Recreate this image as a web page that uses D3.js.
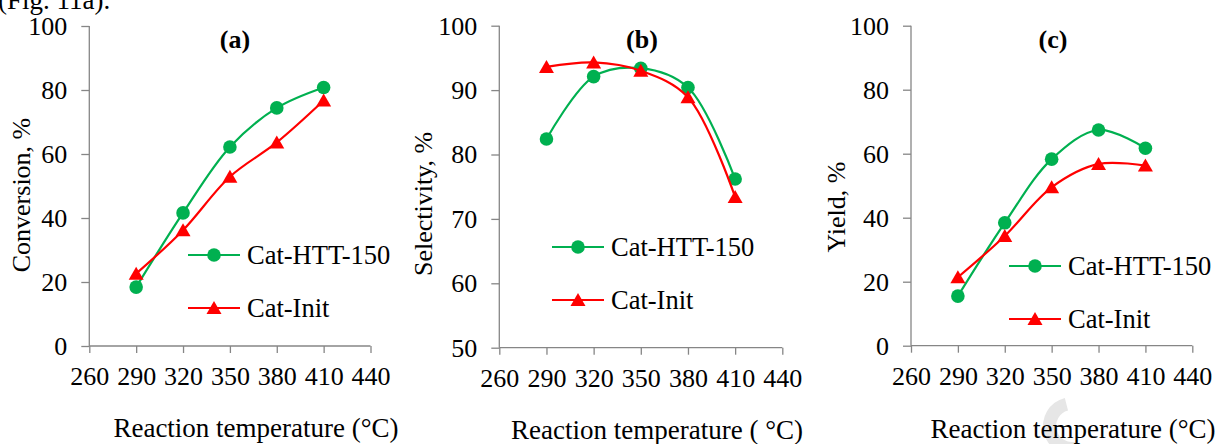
<!DOCTYPE html>
<html>
<head>
<meta charset="utf-8">
<script src="https://cdn.jsdelivr.net/npm/d3@7"></script>
<style>
  body { margin: 0; background: #fff; }
  svg { display: block; }
</style>
</head>
<body>
<svg width="1219" height="444"></svg>
<script>
// data
var temps = [290, 320, 350, 380, 410];
var xTicks = [260, 290, 320, 350, 380, 410, 440];
var convHTT = [18.4, 41.6, 62.2, 74.4, 80.8];
var convInit = [22.6, 36.2, 52.9, 63.6, 76.7];
var selHTT = [82.4, 92.1, 93.4, 90.4, 76.2];
var selInit = [93.6, 94.3, 93.0, 88.9, 73.4];
var yieldHTT = [15.5, 38.4, 58.3, 67.4, 61.7];
var yieldInit = [21.4, 34.3, 49.5, 56.8, 56.3];
var seriesNames = ["Cat-HTT-150", "Cat-Init"];
var convTicks = [0, 20, 40, 60, 80, 100];
var selTicks = [50, 60, 70, 80, 90, 100];
var yieldTicks = [0, 20, 40, 60, 80, 100];

var serif = "'Liberation Serif', 'Times New Roman', serif";
var green = "#00b050", red = "#ff0000", axisColor = "#868686";
var svg = d3.select("svg");

svg.append("rect").attr("width", 1219).attr("height", 444).attr("fill", "#fff");

// faint watermark arc in the lower right
svg.append("path")
  .attr("d", d3.arc().innerRadius(16).outerRadius(29).startAngle(-3.4).endAngle(-0.25)())
  .attr("transform", "translate(1072,426)")
  .attr("fill", "#e6e6e6");

// cut-off line of body text above the figure
svg.append("text")
  .text("(Fig. 11a).")
  .attr("x", -2).attr("y", 9)
  .attr("font-size", 27)
  .style("font-family", serif)
  .attr("fill", "#000");

var panels = [
  { x0: 89.3, x1: 370.5, yTop: 26, yBot: 346, dom: [0, 100], ticks: convTicks,
    a: convHTT, b: convInit, title: "(a)", tx: 235, ylab: "Conversion, %", ylx: 30, yly: 195,
    xlab: "Reaction temperature (°C)", xlx: 256, xly: 437, lgx: 188, lgy: 255 },
  { x0: 499.3, x1: 782.3, yTop: 25.7, yBot: 347.7, dom: [50, 100], ticks: selTicks,
    a: selHTT, b: selInit, title: "(b)", tx: 642, ylab: "Selectivity, %", ylx: 432, yly: 204,
    xlab: "Reaction temperature ( °C)", xlx: 657, xly: 439, lgx: 552, lgy: 247 },
  { x0: 911, x1: 1192.3, yTop: 25.7, yBot: 345.7, dom: [0, 100], ticks: yieldTicks,
    a: yieldHTT, b: yieldInit, title: "(c)", tx: 1053, ylab: "Yield, %", ylx: 845, yly: 207,
    xlab: "Reaction temperature (°C)", xlx: 1073, xly: 438, lgx: 1009, lgy: 266 }
];

var triPath = "M0,-7L7.5,6L-7.5,6Z";

panels.forEach(function(p) {
  var x = d3.scaleLinear().domain([260, 440]).range([p.x0, p.x1]);
  var y = d3.scaleLinear().domain(p.dom).range([p.yBot, p.yTop]);
  var g = svg.append("g");

  // y axis
  var yAxis = g.append("g")
    .attr("transform", "translate(" + p.x0 + ",0)")
    .call(d3.axisLeft(y).tickValues(p.ticks).tickSize(8).tickPadding(14).tickFormat(d3.format("d")));
  // x axis
  var xAxis = g.append("g")
    .attr("transform", "translate(0," + p.yBot + ")")
    .call(d3.axisBottom(x).tickValues(xTicks).tickSize(7).tickPadding(14).tickFormat(d3.format("d")));

  [yAxis, xAxis].forEach(function(ax) {
    ax.attr("font-family", null);
    ax.select(".domain").attr("stroke", axisColor).attr("stroke-width", 1.3);
    ax.selectAll(".tick line").attr("stroke", axisColor).attr("stroke-width", 1.3);
    ax.selectAll("text").attr("font-size", 26).attr("fill", "#000")
      .style("font-family", serif);
  });
  yAxis.select(".domain").attr("d", "M0," + p.yBot + "V" + p.yTop);
  xAxis.select(".domain").attr("d", "M" + p.x0 + ",0H" + p.x1);
  xAxis.selectAll("text").attr("dy", "0.71em");

  var line = d3.line()
    .x(function(d, i) { return x(temps[i]); })
    .y(function(d) { return y(d); })
    .curve(d3.curveCatmullRom.alpha(0.5));

  // green series
  g.append("path").datum(p.a).attr("d", line)
    .attr("fill", "none").attr("stroke", green).attr("stroke-width", 2.2);
  g.selectAll(".dotA").data(p.a).enter().append("circle")
    .attr("cx", function(d, i) { return x(temps[i]); })
    .attr("cy", function(d) { return y(d); })
    .attr("r", 6.8).attr("fill", green);

  // red series
  g.append("path").datum(p.b).attr("d", line)
    .attr("fill", "none").attr("stroke", red).attr("stroke-width", 2.2);
  g.selectAll(".triB").data(p.b).enter().append("path")
    .attr("d", triPath)
    .attr("transform", function(d, i) { return "translate(" + x(temps[i]) + "," + y(d) + ")"; })
    .attr("fill", red);

  // panel title
  g.append("text").text(p.title)
    .attr("x", p.tx).attr("y", 48)
    .attr("text-anchor", "middle")
    .style("font-family", serif)
    .attr("font-size", 26).attr("font-weight", "bold");

  // axis titles
  g.append("text").text(p.ylab)
    .attr("transform", "translate(" + p.ylx + "," + p.yly + ") rotate(-90)")
    .attr("text-anchor", "middle")
    .style("font-family", serif)
    .attr("font-size", 26);
  g.append("text").text(p.xlab)
    .attr("x", p.xlx).attr("y", p.xly)
    .attr("text-anchor", "middle")
    .style("font-family", serif)
    .attr("font-size", 27);

  // legend
  var lg = g.append("g").attr("transform", "translate(" + p.lgx + "," + p.lgy + ")");
  [0, 1].forEach(function(k) {
    var row = lg.append("g").attr("transform", "translate(0," + (k * 53) + ")");
    row.append("line").attr("x1", 0).attr("x2", 52).attr("y1", 0).attr("y2", 0)
      .attr("stroke", k ? red : green).attr("stroke-width", 2.2);
    if (k) {
      row.append("path").attr("d", triPath).attr("transform", "translate(26,0)").attr("fill", red);
    } else {
      row.append("circle").attr("cx", 26).attr("cy", 0).attr("r", 6.8).attr("fill", green);
    }
    row.append("text").text(seriesNames[k])
      .attr("x", 59).attr("y", 8.5)
      .style("font-family", serif)
      .attr("font-size", 26.5);
  });
});
</script>
</body>
</html>
